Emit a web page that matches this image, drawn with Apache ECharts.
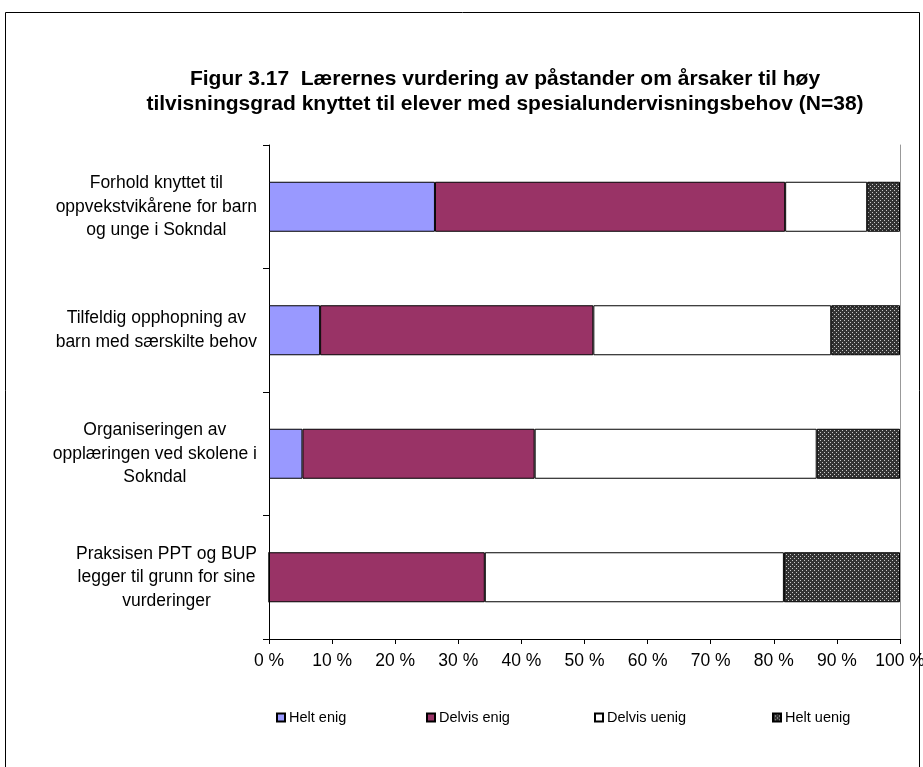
<!DOCTYPE html>
<html>
<head>
<meta charset="utf-8">
<script src="https://cdn.jsdelivr.net/npm/echarts@6/dist/echarts.min.js"></script>
<style>html,body{margin:0;padding:0;background:#fff}#c{width:923px;height:767px}</style>
</head>
<body>
<div id="c"></div>
<script>
const titleText = 'Figur 3.17  Lærernes vurdering av påstander om årsaker til høy\ntilvisningsgrad knyttet til elever med spesialundervisningsbehov (N=38)';
const categories = [
  'Forhold knyttet til\noppvekstvikårene for barn\nog unge i Sokndal',
  'Tilfeldig opphopning av\nbarn med særskilte behov',
  'Organiseringen av\nopplæringen ved skolene i\nSokndal',
  'Praksisen PPT og BUP\nlegger til grunn for sine\nvurderinger'
];
const seriesNames = ['Helt enig', 'Delvis enig', 'Delvis uenig', 'Helt uenig'];
const heltEnig = [26.3, 8.1, 5.3, 0];
const delvisEnig = [55.5, 43.3, 36.8, 34.2];
const delvisUenig = [13.0, 37.7, 44.7, 47.4];
const heltUenig = [5.2, 10.9, 13.2, 18.4];
const xTicks = [0, 10, 20, 30, 40, 50, 60, 70, 80, 90, 100];

const FONT = 'Liberation Sans, Arial, sans-serif';

// dotted dark pattern
const pc = document.createElement('canvas');
pc.width = 4; pc.height = 4;
const px = pc.getContext('2d');
px.fillStyle = '#333333'; px.fillRect(0, 0, 4, 4);
px.fillStyle = '#c8c8c8';
px.fillRect(0, 0, 1, 1);
px.fillRect(2, 2, 1, 1);
const pattern = { image: pc, repeat: 'repeat' };

const colors = ['#9999FF', '#993366', '#FFFFFF', pattern];
const dataSets = [heltEnig, delvisEnig, delvisUenig, heltUenig];

const chart = echarts.init(document.getElementById('c'), null, { renderer: 'canvas' });
const legendLefts = [271, 421, 589, 767];

chart.setOption({
  animation: false,
  backgroundColor: '#fff',
  title: {
    text: titleText,
    left: 500,
    top: 62,
    textAlign: 'center',
    textStyle: { fontFamily: FONT, fontSize: 21, fontWeight: 'bold', color: '#000', lineHeight: 25 }
  },
  graphic: [{
    type: 'rect',
    shape: { x: 5.5, y: 12.5, width: 914, height: 800 },
    style: { fill: 'none', stroke: '#000', lineWidth: 1 },
    silent: true
  }],
  legend: seriesNames.map((n, i) => ({
    data: [n],
    left: legendLefts[i],
    top: 705,
    itemWidth: 8,
    itemHeight: 8,
    itemGap: 4,
    icon: 'rect',
    textStyle: { fontFamily: FONT, fontSize: 14.5, color: '#000', padding: [0, 0, 0, -1] },
    selectedMode: false
  })),
  grid: { left: 269, right: 23, top: 145, bottom: 128, containLabel: false, outerBoundsMode: 'none' },
  xAxis: {
    type: 'value',
    min: 0, max: 100, interval: 10,
    axisLine: { show: true, lineStyle: { color: '#000', width: 1 } },
    axisTick: { show: true, length: 5, inside: false, lineStyle: { color: '#000' } },
    splitLine: { show: false },
    axisLabel: {
      fontFamily: FONT, fontSize: 17.5, color: '#000', margin: 13,
      formatter: v => xTicks.includes(v) ? v + ' %' : ''
    }
  },
  yAxis: [{
    type: 'category',
    data: categories,
    inverse: true,
    axisLine: { show: true, lineStyle: { color: '#000', width: 1 } },
    axisTick: { show: true, length: 6, inside: false, alignWithLabel: false, lineStyle: { color: '#000' } },
    axisLabel: {
      align: 'right',
      margin: 12,
      formatter: v => v.split('\n').map(s => '{c|' + s + '}').join('\n'),
      rich: {
        c: { fontFamily: FONT, fontSize: 17.5, color: '#000', align: 'center', lineHeight: 23.5 }
      }
    }
  }, {
    type: 'category',
    data: categories,
    inverse: true,
    position: 'right',
    axisLine: { show: true, lineStyle: { color: '#999', width: 1 } },
    axisTick: { show: false },
    axisLabel: { show: false }
  }],
  series: seriesNames.map((n, i) => ({
    name: n,
    type: 'bar',
    stack: 'total',
    barWidth: 50,
    data: dataSets[i],
    itemStyle: { color: colors[i], borderColor: '#000', borderWidth: 1 },
    emphasis: { disabled: true }
  }))
});
</script>
</body>
</html>
